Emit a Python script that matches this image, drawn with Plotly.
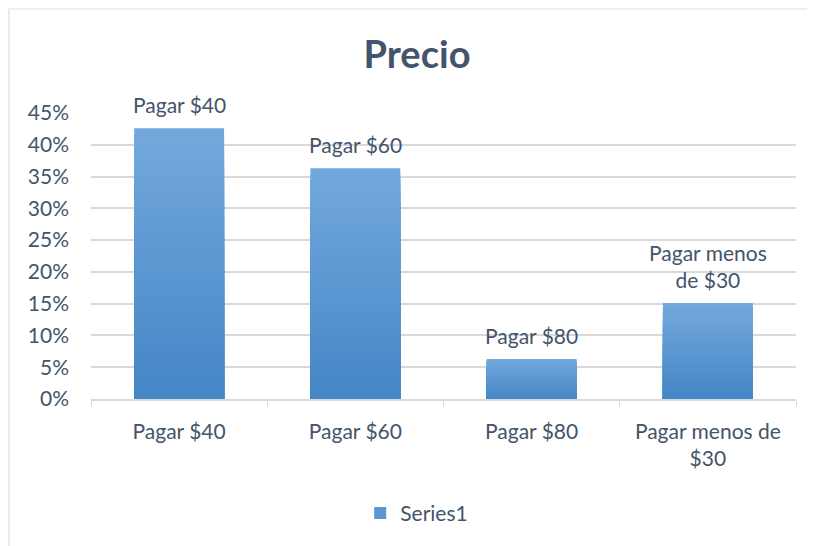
import plotly.graph_objects as go

categories = ["Pagar $40", "Pagar $60", "Pagar $80", "Pagar menos de $30"]
values = [0.426, 0.363, 0.063, 0.151]
tick_labels = ["Pagar $40", "Pagar $60", "Pagar $80", "Pagar menos de<br>$30"]
bar_labels = ["Pagar $40", "Pagar $60", "Pagar $80", "Pagar menos<br>de $30"]
y_ticks = [0, 0.05, 0.10, 0.15, 0.20, 0.25, 0.30, 0.35, 0.40, 0.45]
series_name = "Series1"

TEXT = "#44546A"
GRID = "#D9D9D9"
FONT = "Lato, Open Sans, sans-serif"

top_rgb = (0x73, 0xA8, 0xDC)
bot_rgb = (0x45, 0x86, 0xC6)
N = 40

# page body adds an 8px offset; compensate in margins
L, T, PW, PH = 83, 105, 705, 286

fig = go.Figure()
for k in range(N):
    frac = (N - k) / N
    t = k / (N - 1)
    c = tuple(round(top_rgb[i] + (bot_rgb[i] - top_rgb[i]) * t) for i in range(3))
    fig.add_trace(go.Bar(
        x=categories,
        y=[v * frac for v in values],
        marker=dict(color="rgb(%d,%d,%d)" % c, line=dict(width=0)),
        width=0.51,
        name=series_name,
        showlegend=(k == N // 2),
        hoverinfo="skip" if k else None,
    ))

for cat, v, lab in zip(categories, values, bar_labels):
    fig.add_annotation(x=cat, y=v, text=lab, showarrow=False, yanchor="bottom",
                       yshift=9, font=dict(size=21, color=TEXT, family=FONT))

# outer chart border
fig.add_shape(type="rect", xref="paper", yref="paper",
              x0=(9 - 91) / PW, x1=1.1, y0=-0.6, y1=(399 - 9) / PH,
              line=dict(color="#D9DEE4", width=1.2), fillcolor="rgba(0,0,0,0)", layer="below")

fig.update_layout(
    width=815, height=546,
    barmode="overlay",
    paper_bgcolor="white", plot_bgcolor="white",
    margin=dict(l=L, r=815 - L - PW, t=T, b=546 - T - PH),
    font=dict(family=FONT, color=TEXT, size=21),
    title=dict(text="<b>Precio</b>", x=(417 - 8) / 815, xanchor="center",
               y=1 - (55 - 8) / 546, yanchor="middle",
               font=dict(size=38, color=TEXT, family=FONT)),
    xaxis=dict(
        tickmode="array", tickvals=categories, ticktext=tick_labels,
        tickson="boundaries", ticks="outside", ticklen=6, tickcolor=GRID,
        showline=True, linecolor=GRID, linewidth=1.5, showgrid=False,
        tickfont=dict(size=21, color=TEXT), ticklabelstandoff=13, fixedrange=True,
    ),
    yaxis=dict(
        range=[0, 0.45], tickvals=y_ticks, tickformat=".0%",
        showgrid=True, gridcolor=GRID, gridwidth=1.5, zeroline=False,
        showline=False, ticks="", tickfont=dict(size=21, color=TEXT),
        ticklabelstandoff=21, fixedrange=True,
    ),
    legend=dict(orientation="h", x=0.462, xanchor="center", y=-0.4, yanchor="middle",
                font=dict(size=21, color=TEXT), itemwidth=30),
)

fig.write_html("out.html")
